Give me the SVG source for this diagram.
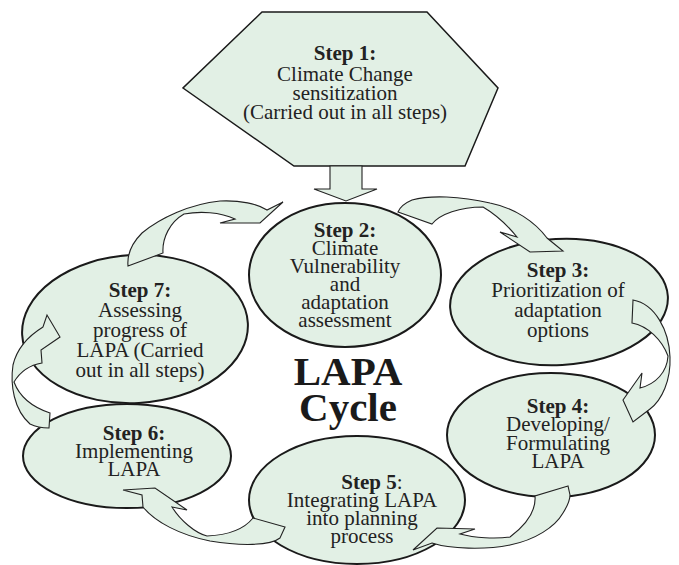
<svg xmlns="http://www.w3.org/2000/svg" width="679" height="565" viewBox="0 0 679 565">
<style>
.shape{fill:#e2f0e5;stroke:#1a1a1a;stroke-width:2}
.hex{fill:#e2f0e5;stroke:#1a1a1a;stroke-width:1.5;stroke-linejoin:miter}
.arrow{fill:#e2f0e5;stroke:#222;stroke-width:1.1;stroke-linejoin:miter}
.t{font-family:'Liberation Serif','DejaVu Serif','Times New Roman',serif;font-size:21px;fill:#222;text-anchor:middle}
.b{font-weight:bold}
.big{font-family:'Liberation Serif','DejaVu Serif','Times New Roman',serif;font-size:41px;font-weight:bold;fill:#1a1a1a;text-anchor:middle}
</style>
<rect width="679" height="565" fill="#ffffff"/>

<g id="step1">
<polygon class="hex" points="262,12 427,12 498,88 465,166 294,166 183,88"/>
<text class="t b" x="345" y="60" font-family="Liberation Serif, serif">Step 1:</text>
<text class="t" x="345" y="81" font-family="Liberation Serif, serif">Climate Change</text>
<text class="t" x="345" y="100" font-family="Liberation Serif, serif">sensitization</text>
<text class="t" x="345" y="119" font-family="Liberation Serif, serif">(Carried out in all steps)</text>
</g>

<g id="step2">
<ellipse class="shape" cx="345" cy="275" rx="96" ry="72"/>
<text class="t b" x="345" y="237">Step 2:</text>
<text class="t" x="345" y="255">Climate</text>
<text class="t" x="345" y="273">Vulnerability</text>
<text class="t" x="345" y="291">and</text>
<text class="t" x="345" y="309">adaptation</text>
<text class="t" x="345" y="327">assessment</text>
</g>

<g id="step3">
<ellipse class="shape" cx="559" cy="302" rx="109" ry="63" transform="rotate(-3 559 302)"/>
<text class="t b" x="558" y="277">Step 3:</text>
<text class="t" x="558" y="297">Prioritization of</text>
<text class="t" x="558" y="317">adaptation</text>
<text class="t" x="558" y="337">options</text>
</g>

<g id="step4">
<ellipse class="shape" cx="551" cy="435" rx="104" ry="62"/>
<text class="t b" x="558" y="413">Step 4:</text>
<text class="t" x="558" y="431">Developing/</text>
<text class="t" x="558" y="450">Formulating</text>
<text class="t" x="558" y="468">LAPA</text>
</g>

<g id="step5">
<ellipse class="shape" cx="357" cy="500" rx="108" ry="64"/>
<text class="t" x="372" y="489"><tspan class="b">Step 5</tspan>:</text>
<text class="t" x="362" y="507">Integrating LAPA</text>
<text class="t" x="362" y="525">into planning</text>
<text class="t" x="362" y="543">process</text>
</g>

<g id="step6">
<ellipse class="shape" cx="127" cy="456" rx="104" ry="52"/>
<text class="t b" x="134" y="440">Step 6:</text>
<text class="t" x="134" y="458">Implementing</text>
<text class="t" x="134" y="476">LAPA</text>
</g>

<g id="step7">
<ellipse class="shape" cx="135" cy="329" rx="113" ry="74" transform="rotate(-3 135 329)"/>
<text class="t b" x="140" y="297">Step 7:</text>
<text class="t" x="140" y="317">Assessing</text>
<text class="t" x="140" y="337">progress of</text>
<text class="t" x="140" y="357">LAPA (Carried</text>
<text class="t" x="140" y="377">out in all steps)</text>
</g>

<g id="title">
<text class="big" x="348" y="385">LAPA</text>
<text class="big" x="348" y="421">Cycle</text>
</g>

<g id="connectors">
<path class="arrow" d="M330,166 L362,166 L362,189 L377,189 L346,201 L314,189 L330,189 Z"/>
<path class="arrow" d="M128,266 L163,253 C162,238 170,222 184,214 C200,211 220,212 235,219 L220,223 L260,223 L283,202 L267,210 C258,204 240,200 220,201 C190,204 160,218 142,233 C132,243 127,255 128,266 Z"/>
<path class="arrow" d="M398,212 L432,224 C440,214 460,207 483,207 C495,214 508,226 517,237 L500,232 L530,252 L563,251 L547,238 C535,222 515,208 490,203 C460,196 430,195 412,200 C405,203 400,207 398,212 Z"/>
<path class="arrow" d="M633,300 L632,323 C648,326 662,340 668,356 C667,372 656,384 640,388 L642,373 L623,400 L633,422 L650,409 C662,400 671,380 670,357 C669,330 655,304 633,300 Z"/>
<path class="arrow" d="M568,486 L535,496 C536,508 530,522 510,537 C495,539 475,538 460,534 L475,529 L437,528 L413,550 L432,543 C450,549 485,550 510,545 C535,540 555,527 563,513 C568,505 570,500 570,495 Z"/>
<path class="arrow" d="M285,527 L253,518 C245,528 230,535 207,536 C195,533 180,520 172,507 L187,510 L155,488 L123,490 L142,495 L143,507 C155,522 180,535 210,541 C240,546 270,546 280,538 Z"/>
<path class="arrow" d="M49,428 L50,413 C35,408 20,398 14,382 C20,372 30,365 42,363 L41,350 L60,337 L47,315 L43,327 C30,335 17,348 13,365 C10,385 14,410 30,424 C36,427 43,428 49,428 Z"/>
</g>
</svg>
